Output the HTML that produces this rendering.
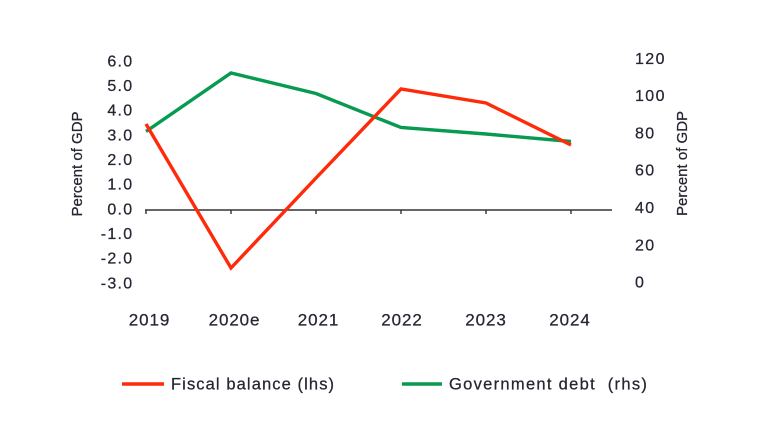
<!DOCTYPE html>
<html>
<head>
<meta charset="utf-8">
<style>
  html,body{margin:0;padding:0;background:#fff;}
  svg{display:block;}
  text{font-family:"Liberation Sans",Arial,sans-serif;fill:#262633;stroke:#262633;stroke-width:0.25;}
</style>
</head>
<body>
<svg width="780" height="439" viewBox="0 0 780 439" xmlns="http://www.w3.org/2000/svg">
  <rect width="780" height="439" fill="#ffffff"/>

  <!-- left tick labels -->
  <g font-size="16" text-anchor="end" letter-spacing="1.3">
    <text x="133.5" y="66.5">6.0</text>
    <text x="133.5" y="91">5.0</text>
    <text x="133.5" y="115.5">4.0</text>
    <text x="133.5" y="140.3">3.0</text>
    <text x="133.5" y="165">2.0</text>
    <text x="133.5" y="189.7">1.0</text>
    <text x="133.5" y="214.3">0.0</text>
    <text x="133.5" y="239">-1.0</text>
    <text x="133.5" y="263.7">-2.0</text>
    <text x="133.5" y="288.5">-3.0</text>
  </g>

  <!-- right tick labels -->
  <g font-size="16" letter-spacing="1.4">
    <text x="635" y="63.8">120</text>
    <text x="635" y="101">100</text>
    <text x="635" y="138.4">80</text>
    <text x="635" y="175.7">60</text>
    <text x="635" y="213">40</text>
    <text x="635" y="250.4">20</text>
    <text x="635" y="287.7">0</text>
  </g>

  <!-- axis titles -->
  <text font-size="15" text-anchor="middle" transform="translate(82,164) rotate(-90)">Percent of GDP</text>
  <text font-size="15" text-anchor="middle" transform="translate(687,163.5) rotate(-90)">Percent of GDP</text>

  <!-- x axis -->
  <line x1="145" y1="210" x2="612" y2="210" stroke="#333" stroke-width="1.4"/>
  <g stroke="#333" stroke-width="1.4">
    <line x1="146" y1="210" x2="146" y2="214"/>
    <line x1="231" y1="210" x2="231" y2="214"/>
    <line x1="316" y1="210" x2="316" y2="214"/>
    <line x1="401" y1="210" x2="401" y2="214"/>
    <line x1="486" y1="210" x2="486" y2="214"/>
    <line x1="571" y1="210" x2="571" y2="214"/>
  </g>

  <!-- x labels -->
  <g font-size="17" text-anchor="middle" letter-spacing="0.9">
    <text x="149.5" y="325.5">2019</text>
    <text x="234.5" y="325.5">2020e</text>
    <text x="318.5" y="325.5">2021</text>
    <text x="402" y="325.5">2022</text>
    <text x="486" y="325.5">2023</text>
    <text x="570" y="325.5">2024</text>
  </g>

  <!-- series -->
  <polyline fill="none" stroke="#089a50" stroke-width="3.4" stroke-linejoin="miter"
    points="146,131.5 231,73 316,93.5 401,127.5 486,134 571,141.5"/>
  <polyline fill="none" stroke="#ff2a0a" stroke-width="3.4" stroke-linejoin="miter"
    points="146,124 231,268 316,178 401,89 486,103 571,145"/>

  <!-- legend -->
  <line x1="122" y1="384" x2="164" y2="384" stroke="#ff2a0a" stroke-width="3.5"/>
  <text x="171" y="389.5" font-size="16.5" letter-spacing="1.1">Fiscal balance (lhs)</text>
  <line x1="402" y1="384" x2="442" y2="384" stroke="#089a50" stroke-width="3.5"/>
  <text x="449" y="389.5" font-size="16.5" letter-spacing="1.3">Government debt&#160;&#160;(rhs)</text>
</svg>
</body>
</html>
